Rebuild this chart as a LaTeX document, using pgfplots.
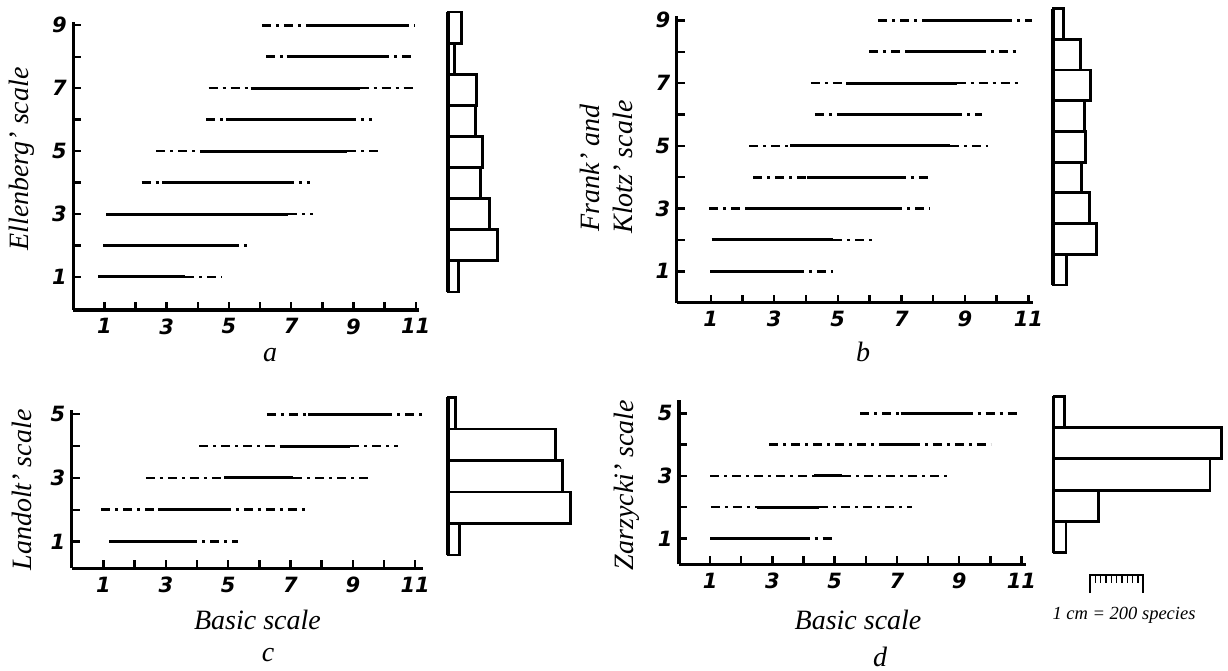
\documentclass[border=0pt]{standalone}
\usepackage{pgfplots}
\pgfplotsset{compat=1.18}
\usepackage{fontspec}
\setmainfont{Liberation Serif}
\newfontfamily\tickfont{DejaVu Sans}
\newcommand\tk{\tickfont\bfseries\itshape\fontsize{21}{21}\selectfont}
\newcommand\lbl{\itshape\fontsize{28}{30}\selectfont}

\pgfplotsset{
  panel/.style={
    scale only axis, anchor=south west, clip=false,
    axis lines=left, axis line style={-, line width=3.2pt},
    tick align=inside, major tick length=8pt,
    tick style={black, line width=2.4pt},
    xtick={1,...,11}, xticklabels={1,,3,,5,,7,,9,,11},
    ticklabel style={font=\tk},
    xticklabel style={yshift=-5pt},
    yticklabel style={xshift=-3pt},
    unbounded coords=jump,
  },
  hist/.style={
    scale only axis, anchor=south west, clip=false,
    axis x line=none, axis y line=left, axis line style={-, line width=4pt},
    ytick=\empty, xmin=0, xmax=700, x=0.2665pt, ymin=0.5,
  },
  seg/.style={black, line width=3pt},
  dsh/.style={black, line width=2.6pt, dash pattern=on 9pt off 5pt on 3pt off 5pt},
  bars/.style={xbar, fill=white, draw=black, line width=2.8pt},
}

\begin{document}
\begin{tikzpicture}[x=1pt,y=1pt]
\useasboundingbox (0,0) rectangle (1228,670);

% ---- a: Ellenberg
\begin{axis}[panel, at={(73.2pt,360pt)}, x=31.14pt, y=31.46pt,
  xmin=0, xmax=11.1, ymin=-0.05, ymax=9.1,
  ytick={1,...,9}, yticklabels={1,,3,,5,,7,,9}]
\addplot[dsh] coordinates {
 (6.06,9) (7.5,9) (nan,nan) (10.5,9) (10.96,9) (nan,nan)
 (6.2,8) (6.85,8) (nan,nan) (9.85,8) (10.9,8) (nan,nan)
 (4.35,7) (5.7,7) (nan,nan) (9.2,7) (10.95,7) (nan,nan)
 (4.27,6) (4.9,6) (nan,nan) (8.8,6) (9.6,6) (nan,nan)
 (2.66,5) (4.07,5) (nan,nan) (8.8,5) (9.8,5) (nan,nan)
 (2.2,4) (2.86,4) (nan,nan) (6.8,4) (7.6,4) (nan,nan)
 (6.9,3) (7.7,3) (nan,nan)
 (5.03,2) (5.73,2) (nan,nan)
 (3.6,1) (4.77,1)};
\addplot[seg] coordinates {
 (7.5,9) (10.5,9) (nan,nan)
 (6.85,8) (9.85,8) (nan,nan)
 (5.7,7) (9.2,7) (nan,nan)
 (4.9,6) (8.8,6) (nan,nan)
 (4.07,5) (8.8,5) (nan,nan)
 (2.86,4) (6.8,4) (nan,nan)
 (1.06,3) (6.9,3) (nan,nan)
 (0.97,2) (5.03,2) (nan,nan)
 (0.8,1) (3.6,1)};
\end{axis}
\begin{axis}[hist, at={(448.3pt,378pt)}, y=31.1pt, ymax=9.5]
\addplot[bars, bar width=31.1pt] coordinates {
 (38,1) (184,2) (154,3) (120,4) (128,5) (101,6) (105,7) (23,8) (49,9)};
\end{axis}

% ---- b: Frank and Klotz
\begin{axis}[panel, at={(676.7pt,367.3pt)}, x=31.77pt, y=31.37pt,
  xmin=-0.07, xmax=11.14, ymin=0, ymax=9.13,
  ytick={1,...,9}, yticklabels={1,,3,,5,,7,,9}]
\addplot[dsh] coordinates {
 (6.28,9) (7.69,9) (nan,nan) (10.21,9) (11.1,9) (nan,nan)
 (5.99,8) (7.22,8) (nan,nan) (9.37,8) (10.68,8) (nan,nan)
 (4.15,7) (5.26,7) (nan,nan) (8.74,7) (10.74,7) (nan,nan)
 (4.28,6) (5.12,6) (nan,nan) (8.64,6) (9.53,6) (nan,nan)
 (2.22,5) (3.5,5) (nan,nan) (8.53,5) (9.74,5) (nan,nan)
 (2.34,4) (4.02,4) (nan,nan) (6.85,4) (7.85,4) (nan,nan)
 (0.96,3) (2.13,3) (nan,nan) (6.75,3) (7.9,3) (nan,nan)
 (4.86,2) (6.07,2) (nan,nan)
 (3.65,1) (4.86,1)};
\addplot[seg] coordinates {
 (7.69,9) (10.21,9) (nan,nan)
 (7.22,8) (9.37,8) (nan,nan)
 (5.26,7) (8.74,7) (nan,nan)
 (5.12,6) (8.64,6) (nan,nan)
 (3.5,5) (8.53,5) (nan,nan)
 (4.02,4) (6.85,4) (nan,nan)
 (2.13,3) (6.75,3) (nan,nan)
 (1.03,2) (4.86,2) (nan,nan)
 (0.98,1) (3.65,1)};
\end{axis}
\begin{axis}[hist, at={(1053.3pt,385pt)}, y=30.7pt, ymax=9.5]
\addplot[bars, bar width=30.7pt] coordinates {
 (49,1) (161,2) (135,3) (105,4) (120,5) (116,6) (139,7) (101,8) (38,9)};
\end{axis}

% ---- c: Landolt
\begin{axis}[panel, at={(71.7pt,101.7pt)}, x=31.17pt, y=31.83pt,
  xmin=-0.02, xmax=11.24, ymin=0.16, ymax=5.13,
  ytick={1,...,5}, yticklabels={1,,3,,5}]
\addplot[dsh] coordinates {
 (6.24,5) (7.57,5) (nan,nan) (9.98,5) (11.24,5) (nan,nan)
 (4.08,4) (6.67,4) (nan,nan) (8.91,4) (10.46,4) (nan,nan)
 (2.36,3) (4.87,3) (nan,nan) (7.09,3) (9.5,3) (nan,nan)
 (0.92,2) (2.76,2) (nan,nan) (4.8,2) (7.52,2) (nan,nan)
 (3.72,1) (5.33,1)};
\addplot[seg] coordinates {
 (7.57,5) (9.98,5) (nan,nan)
 (6.67,4) (8.91,4) (nan,nan)
 (4.87,3) (7.09,3) (nan,nan)
 (2.76,2) (4.8,2) (nan,nan)
 (1.19,1) (3.72,1)};
\end{axis}
\begin{axis}[hist, at={(448.3pt,115pt)}, y=31.5pt, ymax=5.5]
\addplot[bars, bar width=31.5pt] coordinates {
 (41,1) (458,2) (428,3) (401,4) (26,5)};
\end{axis}

% ---- d: Zarzycki
\begin{axis}[panel, at={(679pt,105.7pt)}, x=31.13pt, y=31.25pt,
  xmin=0, xmax=11.14, ymin=0.17, ymax=5.43,
  ytick={1,...,5}, yticklabels={1,,3,,5}]
\addplot[dsh] coordinates {
 (5.82,5) (7.12,5) (nan,nan) (9.14,5) (10.98,5) (nan,nan)
 (2.9,4) (6.43,4) (nan,nan) (7.45,4) (10.02,4) (nan,nan)
 (1.0,3) (4.34,3) (nan,nan) (5.25,3) (8.62,3) (nan,nan)
 (1.02,2) (2.52,2) (nan,nan) (4.5,2) (7.5,2) (nan,nan)
 (3.91,1) (4.98,1)};
\addplot[seg] coordinates {
 (7.12,5) (9.14,5) (nan,nan)
 (6.43,4) (7.45,4) (nan,nan)
 (4.34,3) (5.25,3) (nan,nan)
 (2.52,2) (4.5,2) (nan,nan)
 (1.0,1) (3.91,1)};
\end{axis}
\begin{axis}[hist, at={(1054pt,117.3pt)}, y=31.3pt, ymax=5.5]
\addplot[bars, bar width=31.3pt] coordinates {
 (45,1) (166,2) (585,3) (629,4) (38,5)};
\end{axis}

% ---- labels
\node[rotate=90, font=\lbl] at (21.7,511) {Ellenberg’ scale};
\node[rotate=90, font=\lbl] at (590,502) {Frank’ and};
\node[rotate=90, font=\lbl] at (623,503) {Klotz’ scale};
\node[rotate=90, font=\lbl] at (21.7,180) {Landolt’ scale};
\node[rotate=90, font=\lbl] at (626.7,185) {Zarzycki’ scale};
\node[font=\lbl] at (257.5,50) {Basic scale};
\node[font=\lbl] at (858,50) {Basic scale};
\node[font=\lbl] at (270,315) {a};
\node[font=\lbl] at (863,318) {b};
\node[font=\lbl] at (268,15) {c};
\node[font=\lbl] at (880,13.3) {d};

% ---- scale bar
\draw[line width=2pt] (1090,77) -- (1090,95) -- (1143.3,95) -- (1143.3,77);
\foreach \i in {1,...,9} \draw[line width=1.4pt] ({1090+\i*5.33},95) -- ++(0,-8);
\node[font=\itshape\fontsize{18.5}{19}\selectfont] at (1124,55) {1 cm = 200 species};
\end{tikzpicture}
\end{document}
